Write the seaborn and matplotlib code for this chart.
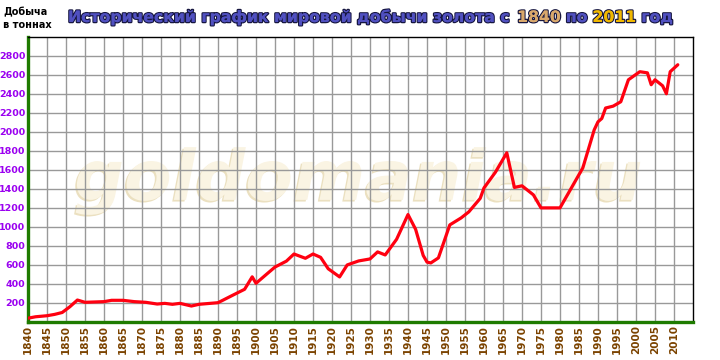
import matplotlib
matplotlib.use("Agg")
import matplotlib.pyplot as plt
import matplotlib.patheffects as pe
import seaborn as sns
import pandas as pd

# --- данные (тонн в год) ---
years = [1840, 1842, 1845, 1847, 1849, 1851, 1853, 1855, 1860, 1862, 1865,
         1868, 1871, 1874, 1876, 1878, 1880, 1883, 1885, 1890, 1894, 1897,
         1899, 1900, 1903, 1905, 1908, 1910, 1913, 1915, 1917, 1919, 1922,
         1924, 1927, 1930, 1932, 1934, 1937, 1940, 1942, 1944, 1945, 1946,
         1948, 1951, 1954, 1956, 1959, 1960, 1963, 1966, 1968, 1970, 1973,
         1975, 1980, 1983, 1986, 1989, 1990, 1991, 1992, 1994, 1996, 1998,
         2001, 2003, 2004, 2005, 2007, 2008, 2009, 2011]
tonnes = [40, 55, 66, 80, 100, 160, 231, 207, 214, 228, 228,
          214, 207, 189, 196, 186, 196, 168, 186, 203, 284, 344,
          475, 407, 510, 578, 640, 715, 670, 715, 680, 560, 474,
          600, 642, 663, 737, 705, 870, 1130, 975, 700, 630, 621,
          674, 1021, 1095, 1158, 1300, 1410, 1575, 1779, 1415, 1432, 1337,
          1200, 1200, 1410, 1620, 2020, 2105, 2140, 2250, 2270, 2316, 2547,
          2632, 2620, 2495, 2547, 2484, 2400, 2632, 2705]

x_ticks = list(range(1840, 2011, 5))
y_ticks = list(range(200, 2801, 200))

sns.set_style("white")
plt.rcParams["font.family"] = ["DejaVu Sans"]

fig = plt.figure(figsize=(7.2, 3.6), dpi=100, facecolor="white")
ax = fig.add_axes([28 / 720, 38 / 360, 665 / 720, 285.3 / 360])

df = pd.DataFrame({"Год": years, "Добыча": tonnes})
sns.lineplot(data=df, x="Год", y="Добыча", ax=ax, color="#ff0010",
             linewidth=2.3, zorder=3, solid_capstyle="round",
             solid_joinstyle="round")

ax.set_xlim(1840, 2015)
ax.set_ylim(0, 3000)
ax.set_xticks(x_ticks)
ax.set_xticklabels([str(y) for y in x_ticks], rotation=90, color="#7b4300",
                   fontweight="bold", fontsize=7.5)
ax.set_yticks(y_ticks)
ax.set_yticklabels([str(v) for v in y_ticks], color="#9a00f0",
                   fontweight="bold", fontsize=6.8)
ax.tick_params(length=0, pad=2)
ax.set_xlabel("")
ax.set_ylabel("")
ax.set_axisbelow(True)
ax.grid(True, color="#999999", linewidth=1.0)

for side in ["left", "bottom"]:
    ax.spines[side].set_color("#1e7b00")
    ax.spines[side].set_linewidth(2.4)
for side in ["top", "right"]:
    ax.spines[side].set_color("black")
    ax.spines[side].set_linewidth(1.0)

# водяной знак
ax.text(1927.0, 1284, "goldomania.ru", family="DejaVu Sans",
        fontsize=50, fontweight="bold", style="oblique", color="#faf4e3",
        ha="center", va="baseline", zorder=0.1,
        path_effects=[pe.withSimplePatchShadow(offset=(-1.2, -1.2),
                                              shadow_rgbFace="#ebe0c0",
                                              alpha=1.0)])

# подпись оси
fig.text(3 / 720, 1 - 7 / 360, "Добыча\nв тоннах", fontsize=7,
         fontweight="bold", color="black", ha="left", va="top",
         linespacing=1.35)

# заголовок из цветных кусков
outline = [pe.withStroke(linewidth=1.8, foreground="#161640"), pe.Normal()]
pieces = [("Исторический график мировой добычи золота с", "#5050c0"),
          ("1840", "#d9a86c"), ("по", "#5050c0"),
          ("2011", "#f0b800"), ("год", "#5050c0")]
prev = None
for txt, col in pieces:
    if prev is None:
        prev = fig.text(68 / 720, 1 - 25 / 360, txt, fontsize=11.3,
                        fontweight="bold", color=col, ha="left",
                        va="bottom", path_effects=outline)
    else:
        prev = ax.annotate(txt, xy=(1, 0), xycoords=prev, xytext=(3.5, 0),
                           textcoords="offset points", fontsize=11.3,
                           fontweight="bold", color=col, ha="left",
                           va="bottom", path_effects=outline,
                           annotation_clip=False)

fig.savefig("out.png", dpi=100, facecolor=fig.get_facecolor())
